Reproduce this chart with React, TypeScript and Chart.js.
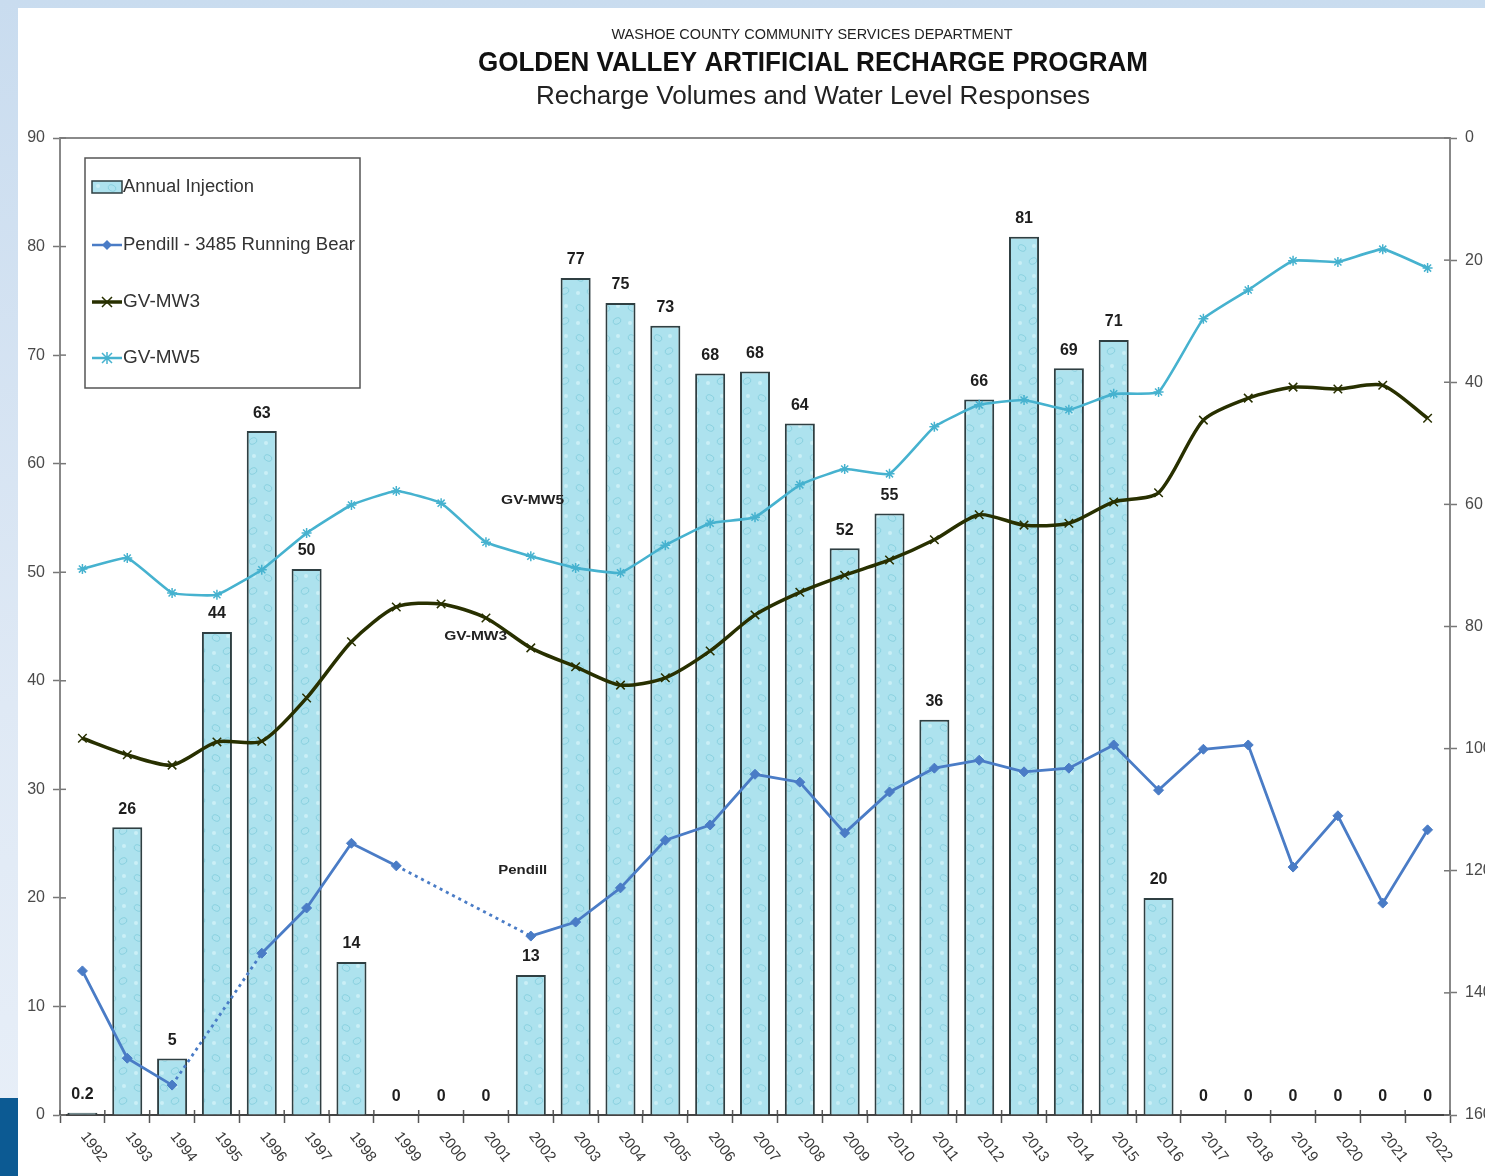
import React, { useEffect, useRef } from "react";
import { Chart, registerables } from "chart.js";
Chart.register(...registerables);

const years = ["1992","1993","1994","1995","1996","1997","1998","1999","2000","2001","2002","2003","2004","2005","2006","2007","2008","2009","2010","2011","2012","2013","2014","2015","2016","2017","2018","2019","2020","2021","2022"];
const injection = [0.2,26.5,5.2,44.5,63,50.3,14.1,0,0,0,12.9,77.1,74.8,72.7,68.3,68.5,63.7,52.2,55.4,36.4,65.9,80.9,68.8,71.4,20,0,0,0,0,0,0];
const injectionLabels = ["0.2","26","5","44","63","50","14","0","0","0","13","77","75","73","68","68","64","52","55","36","66","81","69","71","20","0","0","0","0","0","0"];
const pendill = [136.4,150.7,155.1,null,133.5,126.1,115.5,119.2,null,null,130.7,128.4,122.8,115.0,112.5,104.2,105.5,113.8,107.1,103.2,101.9,103.8,103.2,99.4,106.8,100.1,99.4,119.4,111.0,125.3,113.3];
const mw3 = [98.3,101.0,102.7,98.9,98.8,91.7,82.5,76.8,76.3,78.6,83.5,86.6,89.6,88.4,84.0,78.1,74.4,71.6,69.1,65.8,61.7,63.4,63.1,59.6,58.1,46.2,42.6,40.8,41.1,40.5,45.9];
const mw5 = [70.6,68.8,74.5,74.8,70.7,64.7,60.1,57.8,59.8,66.2,68.5,70.4,71.2,66.7,63.1,62.1,56.8,54.2,55.0,47.3,43.7,42.9,44.5,41.9,41.6,29.6,24.9,20.1,20.3,18.2,21.3];

const leftRange = [0, 90, 10];
const rightRange = [0, 160, 20];

const titleLines = [
  "WASHOE COUNTY COMMUNITY SERVICES DEPARTMENT",
  "GOLDEN VALLEY ARTIFICIAL RECHARGE PROGRAM",
  "Recharge Volumes and Water Level Responses",
];
const legendNames = ["Annual Injection", "Pendill - 3485 Running Bear", "GV-MW3", "GV-MW5"];
const annotations = [
  { text: "GV-MW5", index: 10.04, depth: 59.4 },
  { text: "GV-MW3", index: 8.77, depth: 81.6 },
  { text: "Pendill", index: 9.82, depth: 120.0 },
];

const C_BAR = "#ade2ee";
const C_BAR_BORDER = "#2f3f42";
const C_PEN = "#4a7cc6";
const C_MW3 = "#283000";
const C_MW5 = "#46b2cf";
const FONT = '"Liberation Sans", Arial, sans-serif';

function makePattern(): CanvasPattern | string {
  const c = document.createElement("canvas");
  c.width = 26; c.height = 30;
  const g = c.getContext("2d");
  if (!g) return C_BAR;
  g.fillStyle = C_BAR; g.fillRect(0, 0, 26, 30);
  g.strokeStyle = "rgba(110,195,212,0.55)"; g.lineWidth = 1;
  g.beginPath(); g.ellipse(8, 8, 4, 3, 0.4, 0, Math.PI * 2); g.stroke();
  g.beginPath(); g.ellipse(19, 21, 4, 3, -0.4, 0, Math.PI * 2); g.stroke();
  g.fillStyle = "rgba(215,245,250,0.7)";
  g.beginPath(); g.arc(20, 6, 2, 0, Math.PI * 2); g.fill();
  g.beginPath(); g.arc(6, 23, 2, 0, Math.PI * 2); g.fill();
  return g.createPattern(c, "repeat") || C_BAR;
}

function drawFit(ctx: CanvasRenderingContext2D, text: string, x: number, y: number, font: string, width: number, align: CanvasTextAlign) {
  ctx.font = font;
  const w = ctx.measureText(text).width;
  const s = width / w;
  ctx.save();
  ctx.translate(x, y);
  ctx.scale(s, 1);
  ctx.textAlign = align;
  ctx.textBaseline = "middle";
  ctx.fillText(text, 0, 0);
  ctx.restore();
}

export default function App() {
  const ref = useRef<HTMLCanvasElement | null>(null);

  useEffect(() => {
    document.body.style.margin = "0";
    const canvas = ref.current;
    if (!canvas) return;
    const pattern = makePattern();

    const decor = {
      id: "decor",
      afterDraw(chart: any) {
        const ctx: CanvasRenderingContext2D = chart.ctx;
        const a = chart.chartArea;
        const xs = chart.scales.x, yl = chart.scales.y, yr = chart.scales.y2;
        ctx.save();
        ctx.strokeStyle = "#8a8a8a"; ctx.lineWidth = 2;
        ctx.beginPath(); ctx.moveTo(a.left, a.top); ctx.lineTo(a.right, a.top); ctx.stroke();
        ctx.strokeStyle = "#777"; ctx.lineWidth = 1.5;
        for (let v = leftRange[0]; v <= leftRange[1]; v += leftRange[2]) {
          const y = yl.getPixelForValue(v);
          ctx.beginPath(); ctx.moveTo(a.left, y); ctx.lineTo(a.left + 6, y); ctx.stroke();
        }
        for (let v = rightRange[0]; v <= rightRange[1]; v += rightRange[2]) {
          const y = yr.getPixelForValue(v);
          ctx.beginPath(); ctx.moveTo(a.right - 6, y); ctx.lineTo(a.right, y); ctx.stroke();
        }
        ctx.strokeStyle = "#555";
        const step = xs.getPixelForValue(1) - xs.getPixelForValue(0);
        for (let i = 0; i <= years.length; i++) {
          const x = xs.getPixelForValue(i) - step / 2;
          ctx.beginPath(); ctx.moveTo(x, a.bottom - 5); ctx.lineTo(x, a.bottom); ctx.stroke();
        }
        ctx.fillStyle = "#3a3a3a";
        ctx.font = `15px ${FONT}`;
        ctx.textAlign = "left"; ctx.textBaseline = "middle";
        years.forEach((y, i) => {
          const x = xs.getPixelForValue(i);
          ctx.save();
          ctx.translate(x + 1, a.bottom + 19);
          ctx.rotate((52 * Math.PI) / 180);
          ctx.fillText(y, 0, 0);
          ctx.restore();
        });
        const meta = chart.getDatasetMeta(0);
        ctx.fillStyle = "#1e1e1e";
        ctx.font = `bold 16px ${FONT}`;
        ctx.textAlign = "center"; ctx.textBaseline = "middle";
        meta.data.forEach((el: any, i: number) => {
          ctx.fillText(injectionLabels[i], el.x, el.y - 18);
        });
        annotations.forEach((an) => {
          const x = xs.getPixelForValue(0) + an.index * step;
          const y = yr.getPixelForValue(an.depth);
          ctx.fillStyle = "#222";
          drawFit(ctx, an.text, x, y, `bold 13px ${FONT}`, an.text === "Pendill" ? 49 : 63, "center");
        });
        ctx.fillStyle = "#222";
        drawFit(ctx, titleLines[0], 812, 35, `14px ${FONT}`, 401, "center");
        ctx.fillStyle = "#111";
        drawFit(ctx, titleLines[1], 813, 63, `bold 28px ${FONT}`, 670, "center");
        ctx.fillStyle = "#222";
        drawFit(ctx, titleLines[2], 813, 97, `26px ${FONT}`, 554, "center");
        const lx = 85, ly = 158, lw = 275, lh = 230;
        ctx.fillStyle = "#fff"; ctx.fillRect(lx, ly, lw, lh);
        ctx.strokeStyle = "#555"; ctx.lineWidth = 1.5; ctx.strokeRect(lx, ly, lw, lh);
        const rows = [187, 245, 302, 358];
        const widths = [131, 232, 77, 77];
        ctx.fillStyle = pattern as any; ctx.fillRect(92, 181, 30, 12);
        ctx.strokeStyle = C_BAR_BORDER; ctx.lineWidth = 1.5; ctx.strokeRect(92, 181, 30, 12);
        const sw = [
          { c: C_PEN, w: 2.5, m: "diamond" },
          { c: C_MW3, w: 3.5, m: "x" },
          { c: C_MW5, w: 2.5, m: "star" },
        ];
        sw.forEach((s, k) => {
          const y = rows[k + 1];
          ctx.strokeStyle = s.c; ctx.lineWidth = s.w;
          ctx.beginPath(); ctx.moveTo(92, y); ctx.lineTo(122, y); ctx.stroke();
          ctx.fillStyle = s.c; ctx.lineWidth = 1.5;
          if (s.m === "diamond") {
            ctx.beginPath(); ctx.moveTo(107, y - 5); ctx.lineTo(112, y); ctx.lineTo(107, y + 5); ctx.lineTo(102, y); ctx.closePath(); ctx.fill();
          } else {
            ctx.beginPath(); ctx.moveTo(102, y - 5); ctx.lineTo(112, y + 5); ctx.moveTo(112, y - 5); ctx.lineTo(102, y + 5);
            if (s.m === "star") { ctx.moveTo(107, y - 6); ctx.lineTo(107, y + 6); }
            ctx.stroke();
          }
        });
        ctx.fillStyle = "#333";
        legendNames.forEach((n, k) => drawFit(ctx, n, 123, rows[k], `18px ${FONT}`, widths[k], "left"));
        ctx.restore();
      },
    };

    const chart = new Chart(canvas, {
      type: "bar",
      data: {
        labels: years,
        datasets: [
          {
            type: "bar",
            label: legendNames[0],
            data: injection,
            yAxisID: "y",
            backgroundColor: pattern as any,
            borderColor: C_BAR_BORDER,
            borderWidth: 2,
            borderSkipped: "bottom",
            barPercentage: 0.67,
            categoryPercentage: 1,
            order: 4,
          },
          {
            type: "line",
            label: legendNames[1],
            data: pendill,
            yAxisID: "y2",
            borderColor: C_PEN,
            backgroundColor: C_PEN,
            borderWidth: 2.8,
            pointStyle: "rectRot",
            pointRadius: 5,
            pointBorderWidth: 1,
            tension: 0,
            spanGaps: true,
            segment: {
              borderDash: (ctx: any) => (ctx.p0.skip || ctx.p1.skip ? [3, 4] : undefined),
            },
            order: 3,
          },
          {
            type: "line",
            label: legendNames[2],
            data: mw3,
            yAxisID: "y2",
            borderColor: C_MW3,
            backgroundColor: C_MW3,
            borderWidth: 3.5,
            pointStyle: "crossRot",
            pointRadius: 6,
            pointBorderWidth: 1.5,
            tension: 0.25,
            order: 2,
          },
          {
            type: "line",
            label: legendNames[3],
            data: mw5,
            yAxisID: "y2",
            borderColor: C_MW5,
            backgroundColor: C_MW5,
            borderWidth: 2.6,
            pointStyle: "star",
            pointRadius: 5,
            pointBorderWidth: 1.5,
            tension: 0.12,
            order: 1,
          },
        ],
      },
      options: {
        responsive: false,
        animation: false,
        devicePixelRatio: 1,
        layout: { padding: { top: 138, left: 0, right: 0, bottom: 0 } },
        plugins: { legend: { display: false }, tooltip: { enabled: false }, title: { display: false } },
        scales: {
          x: {
            offset: true,
            grid: { display: true, drawOnChartArea: false, offset: true, color: "#555", tickLength: 8, tickWidth: 1.5 },
            border: { display: true, color: "#444", width: 2 },
            ticks: { display: false },
            afterFit: (s: any) => { s.height = 61; },
          },
          y: {
            position: "left",
            min: leftRange[0], max: leftRange[1],
            ticks: { stepSize: leftRange[2], color: "#4a4a4a", font: { family: FONT, size: 16 }, padding: 8 },
            grid: { drawOnChartArea: false, color: "#777", tickLength: 7, tickWidth: 1.5 },
            border: { display: true, color: "#888", width: 2 },
            afterFit: (s: any) => { s.width = 60; },
          },
          y2: {
            position: "right",
            min: rightRange[0], max: rightRange[1],
            reverse: true,
            ticks: { stepSize: rightRange[2], color: "#4a4a4a", font: { family: FONT, size: 16 }, padding: 8 },
            grid: { drawOnChartArea: false, color: "#777", tickLength: 7, tickWidth: 1.5 },
            border: { display: true, color: "#888", width: 2 },
            afterFit: (s: any) => { s.width = 90; },
          },
        },
      },
      plugins: [decor],
    } as any);
    return () => chart.destroy();
  }, []);

  return (
    <div style={{ position: "relative", width: 1485, height: 1176, overflow: "hidden", background: "linear-gradient(180deg, #c9dcef 0%, #dfe9f5 60%, #e8eff8 100%)" }}>
      <div style={{ position: "absolute", left: 0, top: 1098, width: 18, height: 78, background: "#0c5a93" }} />
      <div style={{ position: "absolute", left: 18, top: 8, width: 1467, height: 1168, background: "#ffffff" }} />
      <canvas ref={ref} width={1540} height={1176} style={{ position: "absolute", left: 0, top: 0, width: 1540, height: 1176 }} />
    </div>
  );
}
